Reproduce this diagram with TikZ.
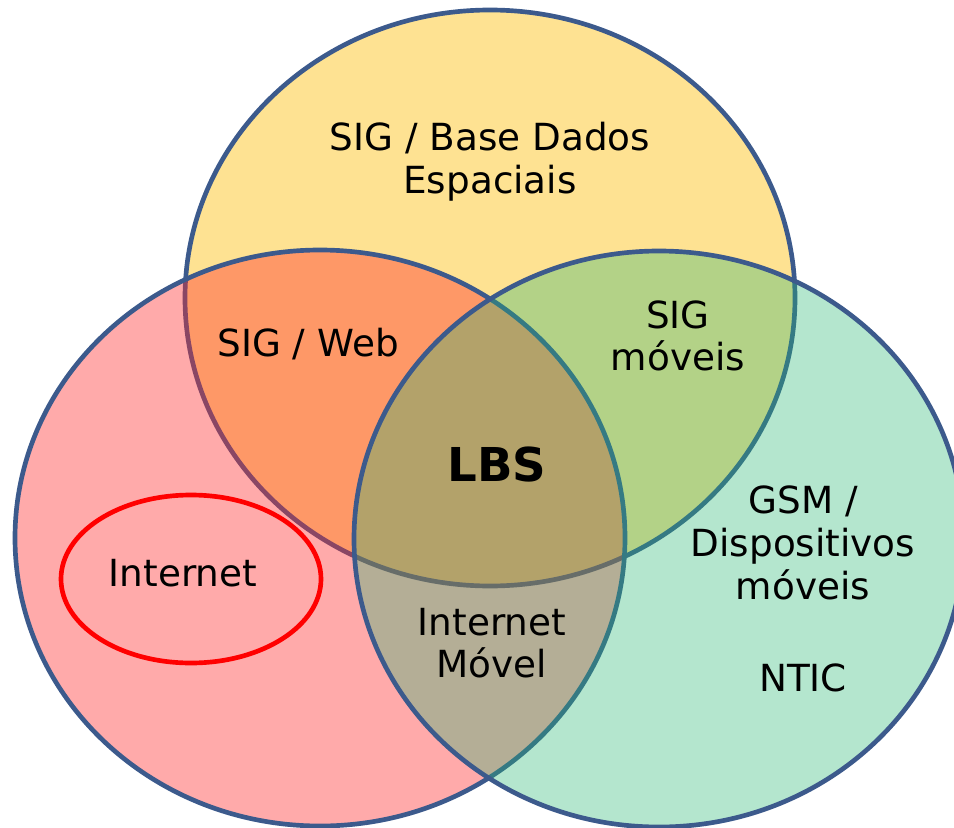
\documentclass[tikz,border=0pt]{standalone}
\usepackage{fontspec}
\setmainfont{DejaVu Sans}
\usepackage{xcolor}
\usepackage{tikz}

\definecolor{vennBorder}{RGB}{60,90,140}
\definecolor{vennYellow}{RGB}{253,197,37}
\definecolor{vennPink}{RGB}{255,42,42}
\definecolor{vennGreen}{RGB}{40,183,115}

\begin{document}
\begin{tikzpicture}[x=0.75pt,y=0.75pt,yscale=-1,xscale=1,
  lbl/.style={inner sep=0.75pt, align=center, font=\fontsize{28}{32}\selectfont}]
\useasboundingbox (0,0) rectangle (954,828);
\clip (0,0) rectangle (954,828);

%Shape: Ellipse [top set]
\draw  [color=vennBorder, line width=3.5pt, fill=vennYellow, fill opacity=0.5] (490,298) ellipse (305 and 288);
%Shape: Ellipse [left set]
\draw  [color=vennBorder, line width=3.5pt, fill=vennPink, fill opacity=0.4] (320,538) ellipse (305 and 288);
%Shape: Ellipse [right set]
\draw  [color=vennBorder, line width=3.5pt, fill=vennGreen, fill opacity=0.35] (659,539) ellipse (305 and 288);
%Shape: Ellipse [internet]
\draw  [color=red, line width=3.5pt] (191,579) ellipse (130 and 84);

% Text Node
\node [lbl] (sigbd) at (490,162) {SIG / Base Dados\\Espaciais};
% Text Node
\node [lbl] (sigweb) at (308,344) {SIG / Web};
% Text Node
\node [lbl] (sigmov) at (678,336) {SIG\\móveis};
% Text Node
\node [inner sep=0.75pt, font=\fontsize{35}{40}\selectfont\bfseries] (lbs) at (497,465) {LBS};
% Text Node
\node [lbl] (gsm) at (803,543) {GSM /\\Dispositivos\\móveis};
% Text Node
\node [lbl] (ntic) at (803,678) {NTIC};
% Text Node
\node [lbl] (inet) at (183,573) {Internet};
% Text Node
\node [lbl] (inetmov) at (492,643) {Internet\\Móvel};

\end{tikzpicture}
\end{document}
